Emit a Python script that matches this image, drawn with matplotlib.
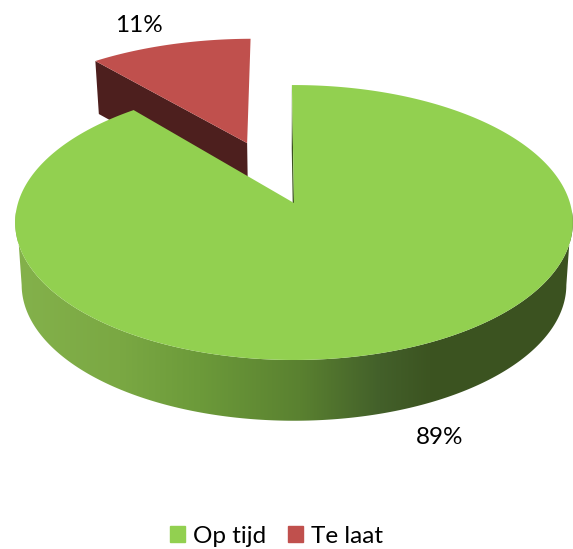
import numpy as np
import matplotlib
matplotlib.use('Agg')
import matplotlib.pyplot as plt
from matplotlib.colors import to_rgb
from matplotlib.patches import Patch, Polygon

labels = ['Op tijd', 'Te laat']
values = [89, 11]
pct_labels = ['89%', '11%']

color_green = '#92d050'
color_red = '#c0504d'
color_red_side = '#4d1f1e'
color_green_cut = '#3b5220'

# side shading of the big slice, left to right
shade_x = [20, 120, 200, 300, 380, 430, 570]
shade_col = ['#84b14b', '#7aa843', '#6c9a3a', '#5a8130', '#43602a', '#3c5421', '#3b5220']

plt.rcParams['font.family'] = ['Lato', 'DejaVu Sans']

# perspective of the pie plane: [cx, apex y, width, depth, k]
top_plane = (294, 203, 276, 134.7, 0.142)
bottom_plane = (294, 278, 272, 135.6, 0.05)
red_top_plane = (294, 203, 285, 134.7, 0.142)
red_bottom_plane = (294, 256, 280, 134.7, 0.142)


def project(x, y, plane):
    cx, y0, rx, ry, k = plane
    w = 1 + k * np.asarray(y)
    return np.column_stack((cx + rx * np.asarray(x) / w, y0 - ry * np.asarray(y) / w))


def wedge(a0, a1, plane, ox=0.0, oy=0.0, n=300):
    t = np.radians(np.linspace(a0, a1, n))
    xs = np.concatenate(([ox], ox + np.cos(t)))
    ys = np.concatenate(([oy], oy + np.sin(t)))
    return project(xs, ys, plane)


start = 90.5
green_end = start - 360 * values[0] / sum(values)  # clockwise
red_end = green_end + 360  # red sits between green end and start
mid = np.radians((start + red_end) / 2)
explode = 0.506
ox, oy = explode * np.cos(mid), explode * np.sin(mid)

fig = plt.figure(figsize=(5.73, 5.49), dpi=100)
ax = fig.add_axes([0, 0, 1, 1])
ax.axis('off')

# red slice, cut face first then top
a = np.radians(red_end)
red_corner = ([ox, ox + np.cos(a)], [oy, oy + np.sin(a)])
face = np.vstack((project(*red_corner, red_top_plane), project(*red_corner, red_bottom_plane)[::-1]))
ax.fill(face[:, 0], face[:, 1], color=color_red_side, lw=0, zorder=1)
red_top = wedge(red_end, start, red_top_plane, ox, oy)
ax.fill(red_top[:, 0], red_top[:, 1], color=color_red, lw=0, zorder=2)

# green cut face at the 12 o'clock edge, nearly edge on
a = np.radians(start)
cut = ([0, np.cos(a)], [0, np.sin(a)])
face = np.vstack((project(*cut, top_plane), project(*cut, bottom_plane)[::-1]))
ax.fill(face[:, 0], face[:, 1], color=color_green_cut, lw=0, zorder=3)

# round side of the green slice: horizontal gradient clipped to the rim, front part only
t = np.radians(np.linspace(183, 357, 400))
rim_top = project(np.cos(t), np.sin(t), top_plane)
rim_bot = project(np.cos(t), np.sin(t), bottom_plane)
rim = Polygon(np.vstack((rim_top, rim_bot[::-1])), closed=True, transform=ax.transData, fc='none', ec='none')
ax.add_patch(rim)
xs = np.arange(0, 574)
shade_rgb = np.array([to_rgb(c) for c in shade_col])
grad = np.stack([np.interp(xs, shade_x, shade_rgb[:, j]) for j in range(3)], axis=-1)[np.newaxis, :, :]
im = ax.imshow(grad, extent=(0, 573, 549, 0), aspect='auto', zorder=4, interpolation='bilinear')
im.set_clip_path(rim)

green_top = wedge(green_end, start, top_plane)
ax.fill(green_top[:, 0], green_top[:, 1], color=color_green, lw=0, zorder=5)

ax.set_xlim(0, 573)
ax.set_ylim(549, 0)

ax.text(440, 437, pct_labels[0], fontsize=17.5, ha='center', va='center', color='black', zorder=6)
ax.text(139, 26, pct_labels[1], fontsize=17.5, ha='center', va='center', color='black', zorder=6)

handles = [Patch(color=color_green, label=labels[0]), Patch(color=color_red, label=labels[1])]
ax.legend(handles=handles, ncol=2, loc='lower center', bbox_to_anchor=(0.4825, 0.004), frameon=False,
          fontsize=17.5, handlelength=0.62, handleheight=0.62, handletextpad=0.3, columnspacing=0.93,
          borderpad=0, borderaxespad=0)

fig.savefig('out.png', dpi=100)
